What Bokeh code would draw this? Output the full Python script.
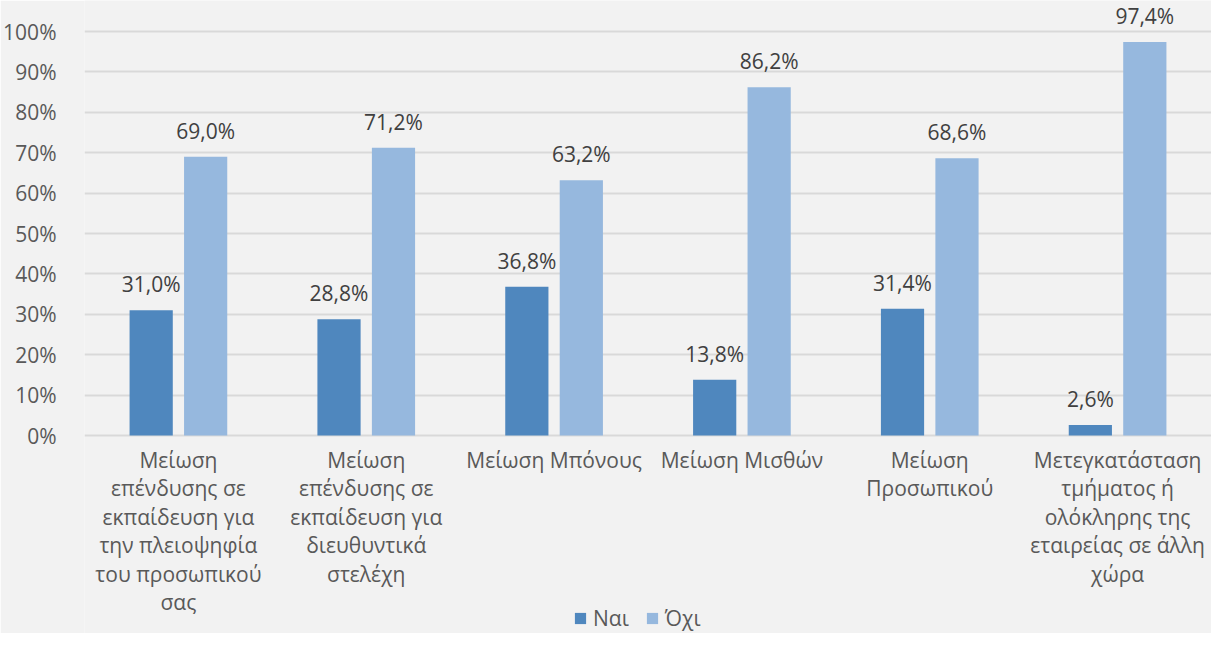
from bokeh.plotting import figure
from bokeh.models import ColumnDataSource, FactorRange, FixedTicker, Legend, LegendItem, NumeralTickFormatter, Range1d
from bokeh.transform import dodge
from bokeh.embed import file_html
from bokeh.resources import INLINE
from bokeh.core.properties import value

categories = [
    "Μείωση\nεπένδυσης σε\nεκπαίδευση για\nτην πλειοψηφία\nτου προσωπικού\nσας",
    "Μείωση\nεπένδυσης σε\nεκπαίδευση για\nδιευθυντικά\nστελέχη",
    "Μείωση Μπόνους",
    "Μείωση Μισθών",
    "Μείωση\nΠροσωπικού",
    "Μετεγκατάσταση\nτμήματος ή\nολόκληρης της\nεταιρείας σε άλλη\nχώρα",
]
nai = [0.310, 0.288, 0.368, 0.138, 0.314, 0.026]
ochi = [0.690, 0.712, 0.632, 0.862, 0.686, 0.974]
series_names = ["Ναι", "Όχι"]
y_ticks = [0.0, 0.1, 0.2, 0.3, 0.4, 0.5, 0.6, 0.7, 0.8, 0.9, 1.0]

def fmt(v):
    return f"{v*100:.1f}%".replace(".", ",")

src = ColumnDataSource(dict(
    cat=categories,
    base=[0.0] * len(categories),
    nai=nai, ochi=ochi,
    nai_lbl=[fmt(v) for v in nai],
    ochi_lbl=[fmt(v) for v in ochi],
))

FONT = "Open Sans"
BG = "#F2F2F2"
DARK = "#4F87BE"
LIGHT = "#96B8DE"
FS = "21px"

H = 633
ZERO_PX = 435   # pixel row of 0% from figure top
PX_PER_UNIT = 404.0
y_start = -(H - ZERO_PX) / PX_PER_UNIT
y_end = ZERO_PX / PX_PER_UNIT

p = figure(
    x_range=FactorRange(*categories, range_padding=0),
    y_range=Range1d(y_start, y_end),
    width=1211, height=H,
    output_backend="svg", toolbar_location=None,
    background_fill_color=BG, border_fill_color=BG,
    min_border_left=84, min_border_right=0, min_border_top=0, min_border_bottom=0,
)
p.outline_line_color = None

off = 0.145
w = 0.23
r1 = p.vbar(x=dodge("cat", -off, range=p.x_range), top="nai", width=w, source=src,
            fill_color=DARK, line_color=None)
r2 = p.vbar(x=dodge("cat", off, range=p.x_range), top="ochi", width=w, source=src,
            fill_color=LIGHT, line_color=None)

for col, lcol, o in (("nai", "nai_lbl", -off), ("ochi", "ochi_lbl", off)):
    p.text(x=dodge("cat", o, range=p.x_range), y=col, text=lcol, source=src,
           text_align="center", text_baseline="bottom", y_offset=-12,
           text_font=value(FONT), text_font_size=FS, text_color="#404040")

# category labels below the 0% line
p.text(x="cat", y="base", text="cat", source=src,
       text_align="center", text_baseline="top", y_offset=10,
       text_font=value(FONT), text_font_size=FS, text_color="#595959",
       text_line_height=1.02)

# axes
p.yaxis.ticker = FixedTicker(ticks=y_ticks)
p.yaxis.formatter = NumeralTickFormatter(format="0%")
p.yaxis.axis_line_color = None
p.yaxis.major_tick_line_color = None
p.yaxis.minor_tick_line_color = None
p.yaxis.major_label_text_font = FONT
p.yaxis.major_label_text_font_size = FS
p.yaxis.major_label_text_color = "#595959"
p.yaxis.major_label_standoff = 22
p.xaxis.visible = False

p.xgrid.grid_line_color = None
p.ygrid.grid_line_color = "#D9D9D9"
p.ygrid.grid_line_width = 2
p.ygrid.ticker = FixedTicker(ticks=y_ticks)

legend = Legend(
    items=[LegendItem(label=series_names[0], renderers=[r1]),
           LegendItem(label=series_names[1], renderers=[r2])],
    orientation="horizontal", location=(489, 1),
    background_fill_alpha=0, border_line_color=None,
    padding=0, margin=0, spacing=16, label_standoff=6,
    glyph_width=14, glyph_height=14,
    label_text_font=FONT, label_text_font_size=FS, label_text_color="#595959",
)
p.add_layout(legend, "center")

open("out.html", "w").write(file_html(p, INLINE))
